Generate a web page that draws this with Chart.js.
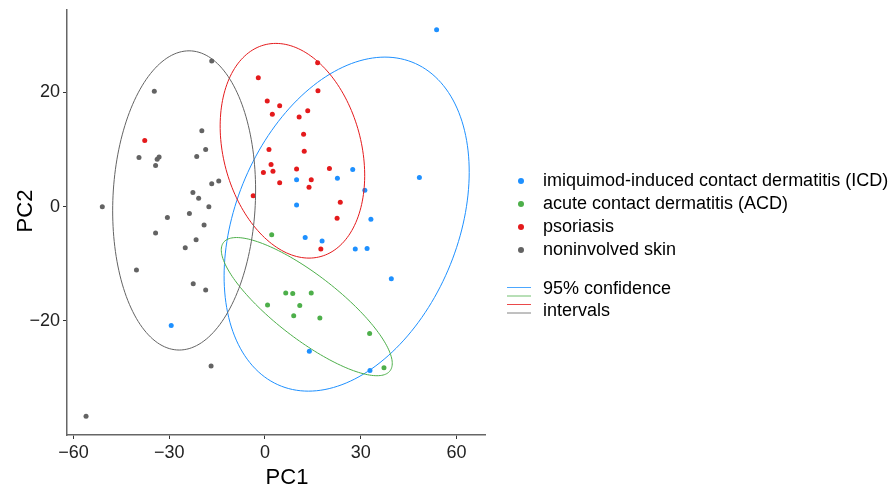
<!DOCTYPE html>
<html lang="en">
<head>
  <meta charset="UTF-8" />
  <title>PCA scatter</title>
  <script src="https://cdn.jsdelivr.net/npm/chart.js"></script>
  <style>
    html, body { margin: 0; padding: 0; background: #fff; }
    canvas { display: block; }
  </style>
</head>
<body>
  <canvas id="pca" width="892" height="490"></canvas>

  <script>
    // tick labels
    const pc1Ticks = [-60, -30, 0, 30, 60];
    const pc2Ticks = [-20, 0, 20];

    // groups (legend order)
    const groupNames = [
      'imiquimod-induced contact dermatitis (ICD)',
      'acute contact dermatitis (ACD)',
      'psoriasis',
      'noninvolved skin'
    ];
    const groupColors = ['#1E90FF', '#4DAF4A', '#E41A1C', '#636363'];

    // points [PC1, PC2]
    const icdPoints = [
      [53.8, 31.0], [27.5, 6.5], [9.9, 4.7], [22.7, 5.0], [48.4, 5.1], [31.3, 2.9],
      [9.9, 0.3], [33.2, -2.2], [12.6, -5.4], [17.9, -6.0], [28.3, -7.4], [32.0, -7.3],
      [39.6, -12.6], [13.9, -25.3], [32.9, -28.7], [-29.4, -20.8]
    ];
    const acdPoints = [
      [2.1, -4.9], [6.5, -15.1], [8.7, -15.2], [14.5, -15.1], [0.8, -17.2],
      [10.9, -17.3], [9.0, -19.1], [17.2, -19.5], [32.8, -22.2], [37.3, -28.2]
    ];
    const psoriasisPoints = [
      [-37.7, 11.6], [-2.1, 22.6], [16.5, 25.2], [16.6, 20.3], [0.7, 18.5], [4.6, 17.7],
      [2.3, 16.2], [10.7, 15.7], [13.4, 16.8], [12.1, 12.7], [1.25, 10.0], [12.3, 9.7],
      [1.9, 7.4], [-0.5, 6.0], [2.5, 6.2], [9.9, 6.6], [20.2, 6.7], [4.6, 4.2],
      [14.5, 4.7], [13.8, 3.4], [-3.7, 1.9], [23.6, 0.8], [22.6, -2.0], [17.5, -7.4]
    ];
    const noninvolvedPoints = [
      [-16.7, 25.5], [-34.7, 20.2], [-19.8, 13.3], [-18.6, 10.0], [-21.4, 8.8], [-39.5, 8.6],
      [-33.8, 8.3], [-33.2, 8.7], [-34.3, 7.2], [-16.7, 4.0], [-14.5, 4.5], [-22.6, 2.5],
      [-20.8, 1.5], [-17.6, 0.0], [-51.0, 0.0], [-23.7, -1.2], [-30.6, -1.9], [-19.1, -3.2],
      [-34.3, -4.6], [-21.6, -5.8], [-25.0, -7.2], [-40.3, -11.1], [-22.5, -13.5],
      [-18.6, -14.6], [-16.9, -27.9], [-56.1, -36.7]
    ];

    // 95% confidence ellipses: centre, offset to the topmost point, half width at centre height
    const ellipseCentres = [[25.6, -3.05], [13.1, -17.5], [8.6, 9.8], [-25.35, 1.1]];
    const ellipseTopOffsets = [[12.0, 29.25], [-22.0, 12.1], [-5.2, 18.8], [1.55, 26.2]];
    const ellipseHalfWidths = [36.5, 15.3, 22.05, 22.35];

    const FONT = "'Liberation Sans', Arial, Helvetica, sans-serif";
    const allPoints = [icdPoints, acdPoints, psoriasisPoints, noninvolvedPoints];

    // draws ellipses, legend and axis titles
    const extrasPlugin = {
      id: 'extras',
      afterDatasetsDraw(chart) {
        const { ctx, scales: { x, y } } = chart;
        ctx.save();
        ctx.lineWidth = 1;
        ellipseCentres.forEach((c, i) => {
          const a = ellipseTopOffsets[i];
          const w = ellipseHalfWidths[i];
          ctx.beginPath();
          for (let k = 0; k <= 180; k++) {
            const t = k / 180 * Math.PI * 2;
            const px = x.getPixelForValue(c[0] + Math.cos(t) * a[0] + Math.sin(t) * w);
            const py = y.getPixelForValue(c[1] + Math.cos(t) * a[1]);
            if (k === 0) ctx.moveTo(px, py); else ctx.lineTo(px, py);
          }
          ctx.strokeStyle = groupColors[i];
          ctx.stroke();
        });
        ctx.restore();
      },
      afterDraw(chart) {
        const ctx = chart.ctx;
        ctx.save();
        ctx.fillStyle = '#000';
        ctx.font = '18px ' + FONT;
        ctx.textBaseline = 'middle';
        ctx.textAlign = 'left';

        // point legend
        groupNames.forEach((name, i) => {
          const yy = 181 + i * 23;
          ctx.beginPath();
          ctx.arc(521, yy, 3, 0, Math.PI * 2);
          ctx.fillStyle = groupColors[i];
          ctx.fill();
          ctx.fillStyle = '#000';
          ctx.fillText(name, 543, yy);
        });

        // ellipse legend
        const lineYs = [287.5, 296, 304.5, 313];
        lineYs.forEach((yy, i) => {
          ctx.beginPath();
          ctx.moveTo(507, yy);
          ctx.lineTo(531, yy);
          ctx.strokeStyle = groupColors[i];
          ctx.lineWidth = 0.8;
          ctx.stroke();
        });
        ctx.fillText('95% confidence', 543, 289);
        ctx.fillText('intervals', 543, 311);

        // axis titles
        ctx.font = '22px ' + FONT;
        ctx.textAlign = 'center';
        ctx.textBaseline = 'alphabetic';
        ctx.fillText('PC1', 287, 484);
        ctx.translate(31.5, 211);
        ctx.rotate(-Math.PI / 2);
        ctx.fillText('PC2', 0, 0);
        ctx.restore();
      }
    };

    const minusLabel = v => String(v).replace('-', '\u2212');

    const axisCommon = {
      type: 'linear',
      grid: {
        display: true,
        drawOnChartArea: false,
        drawTicks: true,
        tickLength: 4,
        tickColor: '#333',
        tickWidth: 1
      },
      border: { display: true, color: '#666', width: 1.5 },
      ticks: {
        color: '#222',
        font: { family: FONT, size: 18 },
        callback: minusLabel
      }
    };

    const ctx = document.getElementById('pca').getContext('2d');
    new Chart(ctx, {
      type: 'scatter',
      data: {
        datasets: allPoints.map((pts, i) => ({
          label: groupNames[i],
          data: pts.map(p => ({ x: p[0], y: p[1] })),
          backgroundColor: groupColors[i],
          borderWidth: 0,
          pointRadius: 2.5
        }))
      },
      options: {
        responsive: false,
        devicePixelRatio: 1,
        animation: false,
        layout: { padding: { left: 0, top: 10, right: 407, bottom: 0 } },
        plugins: { legend: { display: false }, tooltip: { enabled: false } },
        scales: {
          x: {
            ...axisCommon,
            min: -62.07,
            max: 68.97,
            ticks: { ...axisCommon.ticks, padding: 3, maxRotation: 0 },
            afterBuildTicks: s => { s.ticks = pc1Ticks.map(v => ({ value: v })); },
            afterFit: s => { s.height = 55; s.paddingLeft = 0; s.paddingRight = 0; }
          },
          y: {
            ...axisCommon,
            min: -39.98,
            max: 34.45,
            ticks: { ...axisCommon.ticks, padding: 3 },
            afterBuildTicks: s => { s.ticks = pc2Ticks.map(v => ({ value: v })); },
            afterFit: s => { s.width = 67; s.paddingTop = 0; s.paddingBottom = 0; }
          }
        }
      },
      plugins: [extrasPlugin]
    });
  </script>
</body>
</html>
